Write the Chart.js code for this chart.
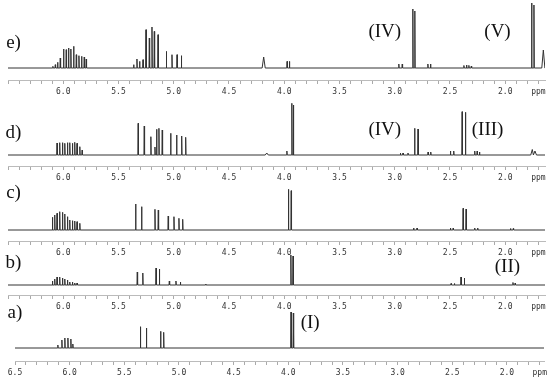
<!DOCTYPE html>
<html>
<head>
<meta charset="UTF-8">
<title>1H NMR spectra a) - e)</title>
<script src="https://cdn.jsdelivr.net/npm/chart.js"></script>
<style>
  body { margin: 0; background: #fff; }
  #wrap { position: relative; width: 550px; height: 380px; }
  #wrap canvas { position: absolute; left: 0; }
</style>
</head>
<body>
<div id="wrap">
  <canvas id="specE" width="550" height="97" style="top:0px"></canvas>
  <canvas id="specD" width="550" height="88" style="top:95px"></canvas>
  <canvas id="specC" width="550" height="80" style="top:178px"></canvas>
  <canvas id="specB" width="550" height="62" style="top:250px"></canvas>
  <canvas id="specA" width="550" height="78" style="top:300px"></canvas>
</div>

<script>
  // peak lists: [ppm, intensity]
  const peaksE = [
    [6.094, 1.7], [6.072, 3.3], [6.051, 5.7], [6.027, 10], [5.997, 19], [5.973, 18.3], [5.952, 20],
    [5.931, 19], [5.906, 21.7], [5.882, 13.3], [5.858, 12.3], [5.834, 11.7], [5.810, 11], [5.792, 9],
    [5.363, 3.3], [5.333, 9], [5.309, 6.6], [5.278, 8.3], [5.251, 38.3], [5.221, 30], [5.197, 41],
    [5.176, 36.6], [5.142, 33.3], [5.067, 16.6], [5.016, 13.3], [4.970, 13.3], [4.931, 12.3],
    [3.974, 6.6], [3.953, 6.6], [2.963, 4], [2.932, 4], [2.836, 59], [2.818, 57],
    [2.700, 4], [2.676, 4], [2.374, 2.5], [2.350, 3], [2.329, 2.6], [2.307, 2],
    [1.761, 65], [1.740, 63]
  ];
  const broadE = [[4.186, 11], [1.655, 18]];

  const peaksD = [
    [6.056, 12], [6.032, 12.3], [6.007, 12.3], [5.986, 11.7], [5.962, 12.3], [5.941, 12.3],
    [5.917, 11.7], [5.896, 12.7], [5.875, 11.7], [5.850, 8.3], [5.829, 5],
    [5.322, 31.7], [5.267, 29], [5.207, 18.3], [5.170, 8], [5.155, 25.7], [5.134, 26.7], [5.104, 25],
    [5.028, 21.7], [4.974, 20], [4.928, 19], [4.892, 17.7],
    [3.976, 4], [3.931, 51.7], [3.917, 50], [2.949, 2], [2.925, 2], [2.880, 2],
    [2.820, 26.7], [2.789, 26], [2.698, 3], [2.674, 3], [2.496, 4], [2.466, 4],
    [2.390, 43.3], [2.360, 42.7], [2.276, 4], [2.254, 4], [2.233, 3]
  ];
  const broadD = [[4.158, 2], [1.755, 5.5], [1.731, 4]];

  const peaksC = [
    [6.098, 12.7], [6.077, 15], [6.056, 16.7], [6.032, 18.3], [6.007, 17.7], [5.986, 16],
    [5.962, 13.3], [5.941, 10], [5.917, 9.3], [5.896, 9], [5.875, 8.3], [5.850, 6.7],
    [5.345, 26], [5.291, 23.3], [5.170, 20.7], [5.140, 20], [5.050, 14], [4.998, 13.3],
    [4.953, 11.7], [4.919, 10.7], [3.962, 40.7], [3.937, 39.3],
    [2.829, 2], [2.798, 2], [2.496, 2], [2.471, 2], [2.381, 21.7], [2.354, 21],
    [2.276, 2], [2.249, 2], [1.952, 1.5], [1.927, 1.5]
  ];

  const peaksB = [
    [6.098, 4], [6.077, 6], [6.056, 8], [6.032, 8], [6.007, 7], [5.986, 6], [5.962, 5],
    [5.941, 3], [5.917, 3], [5.896, 2], [5.875, 2],
    [5.330, 13], [5.280, 12], [5.160, 17], [5.130, 16], [5.040, 4], [4.980, 4], [4.940, 3], [4.710, 1],
    [3.940, 30], [3.920, 29], [2.490, 1.5], [2.460, 1.5], [2.400, 8], [2.370, 7],
    [1.930, 2.5], [1.910, 2]
  ];

  const peaksA = [
    [6.108, 3], [6.071, 8], [6.044, 10], [6.016, 10], [5.989, 9], [5.971, 4],
    [5.353, 21.3], [5.298, 20], [5.168, 16.7], [5.140, 15.7],
    [3.975, 36], [3.954, 35]
  ];

  const tickStepsPpm = [];
  for (let i = 65; i >= 17; i--) tickStepsPpm.push(i / 10);

  const panelLabels = {
    e: [['e)', 6.45, 25], ['(IV)', 3.09, 36], ['(V)', 2.07, 36]],
    d: [['d)', 6.45, 22], ['(IV)', 3.09, 25], ['(III)', 2.16, 25]],
    c: [['c)', 6.45, 37]],
    b: [['b)', 6.45, 22], ['(II)', 1.98, 18]],
    a: [['a)', 6.50, 35], ['(I)', 3.80, 25]]
  };

  const textPlugin = {
    id: 'panelText',
    afterDraw(chart, args, opts) {
      const { ctx, scales } = chart;
      ctx.save();
      ctx.font = '19px "Liberation Serif"';
      ctx.fillStyle = '#111';
      ctx.textAlign = 'center';
      ctx.textBaseline = 'middle';
      opts.items.forEach(([t, ppm, y]) => {
        ctx.fillText(t, scales.x.getPixelForValue(ppm), scales.y.getPixelForValue(y));
      });
      ctx.restore();
    }
  };

  // turn the peak list into one trace: baseline plus a narrow spike per peak
  function buildTrace(peaks, broad, xMin) {
    const pts = [{ x: 6.5, y: 0 }, { x: xMin, y: 0 }];
    const add = (list, hw) => list.forEach(([p, h]) => {
      pts.push({ x: p + hw, y: 0 }, { x: p, y: h }, { x: p - hw, y: 0 });
    });
    add(peaks, 0.003);
    if (broad) add(broad, 0.014);
    return pts.sort((a, b) => b.x - a.x);
  }

  function drawPanel(id, peaks, broad, cfg) {
    new Chart(document.getElementById(id), {
      type: 'line',
      data: {
        datasets: [{
          data: buildTrace(peaks, broad, cfg.xMin),
          borderColor: '#333',
          borderWidth: 1,
          pointRadius: 0,
          tension: 0
        }]
      },
      plugins: [textPlugin],
      options: {
        responsive: false,
        animation: false,
        layout: { padding: { left: cfg.padLeft, right: 5, top: 0, bottom: 0 } },
        plugins: {
          legend: { display: false },
          tooltip: { enabled: false },
          panelText: { items: cfg.labels }
        },
        scales: {
          x: {
            type: 'linear',
            reverse: true,
            min: cfg.xMin,
            max: 6.5,
            afterBuildTicks: s => { s.ticks = tickStepsPpm.map(v => ({ value: v })); },
            afterFit: s => { s.height = 17; },
            grid: { drawOnChartArea: false, tickLength: 4, color: '#aaa' },
            border: { color: '#bbb' },
            ticks: {
              autoSkip: false,
              maxRotation: 0,
              padding: 3,
              color: '#333',
              font: { family: 'DejaVu Sans Mono', size: 8 },
              callback: v => {
                const r = Math.round(v * 10);
                if (r === 17) return 'ppm';
                if (r % 5 !== 0) return '';
                if (r === 65 && !cfg.showFirst) return '';
                return (r / 10).toFixed(1);
              }
            }
          },
          y: {
            display: false,
            min: cfg.yMin,
            max: cfg.yMax
          }
        }
      }
    });
  }

  drawPanel('specE', peaksE, broadE, { xMin: 1.64, padLeft: 8, yMin: -12, yMax: 68, showFirst: false, labels: panelLabels.e });
  drawPanel('specD', peaksD, broadD, { xMin: 1.64, padLeft: 8, yMin: -11, yMax: 60, showFirst: false, labels: panelLabels.d });
  drawPanel('specC', peaksC, null, { xMin: 1.64, padLeft: 8, yMin: -11, yMax: 52, showFirst: false, labels: panelLabels.c });
  drawPanel('specB', peaksB, null, { xMin: 1.64, padLeft: 8, yMin: -10, yMax: 35, showFirst: false, labels: panelLabels.b });
  drawPanel('specA', peaksA, null, { xMin: 1.66, padLeft: 15, yMin: -13, yMax: 48, showFirst: true, labels: panelLabels.a });
</script>
</body>
</html>
